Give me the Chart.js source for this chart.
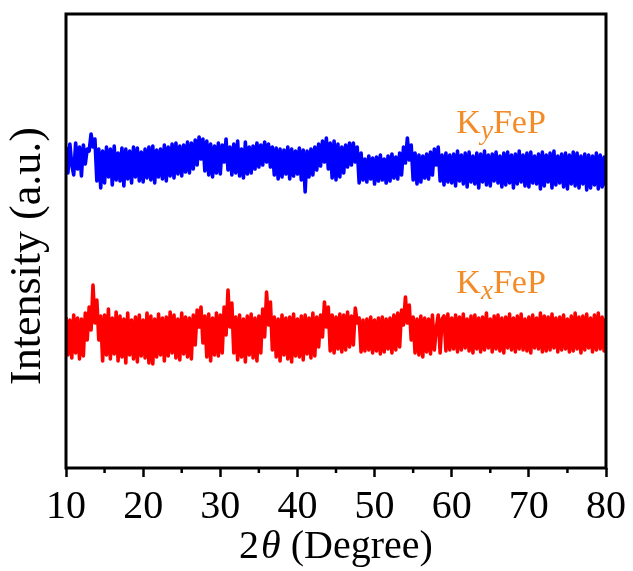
<!DOCTYPE html>
<html>
<head>
<meta charset="utf-8">
<title>XRD KxFeP / KyFeP</title>
<script src="https://cdn.jsdelivr.net/npm/chart.js@4.4.1/dist/chart.umd.min.js"></script>
<style>
  body { margin: 0; background: #fff; }
  canvas { display: block; }
</style>
</head>
<body>
<canvas id="xrdChart" width="633" height="571"></canvas>
<script>
// === DATA ===
// 2theta scan positions (degree)
const twoTheta = [
  10,10.25,10.5,10.75, 11,11.25,11.5,11.75, 12,12.25,12.5,12.75, 13,13.25,13.5,13.75,
  14,14.25,14.5,14.75, 15,15.25,15.5,15.75, 16,16.25,16.5,16.75, 17,17.25,17.5,17.75,
  18,18.25,18.5,18.75, 19,19.25,19.5,19.75, 20,20.25,20.5,20.75, 21,21.25,21.5,21.75,
  22,22.25,22.5,22.75, 23,23.25,23.5,23.75, 24,24.25,24.5,24.75, 25,25.25,25.5,25.75,
  26,26.25,26.5,26.75, 27,27.25,27.5,27.75, 28,28.25,28.5,28.75, 29,29.25,29.5,29.75,
  30,30.25,30.5,30.75, 31,31.25,31.5,31.75, 32,32.25,32.5,32.75, 33,33.25,33.5,33.75,
  34,34.25,34.5,34.75, 35,35.25,35.5,35.75, 36,36.25,36.5,36.75, 37,37.25,37.5,37.75,
  38,38.25,38.5,38.75, 39,39.25,39.5,39.75, 40,40.25,40.5,40.75, 41,41.25,41.5,41.75,
  42,42.25,42.5,42.75, 43,43.25,43.5,43.75, 44,44.25,44.5,44.75, 45,45.25,45.5,45.75,
  46,46.25,46.5,46.75, 47,47.25,47.5,47.75, 48,48.25,48.5,48.75, 49,49.25,49.5,49.75,
  50,50.25,50.5,50.75, 51,51.25,51.5,51.75, 52,52.25,52.5,52.75, 53,53.25,53.5,53.75,
  54,54.25,54.5,54.75, 55,55.25,55.5,55.75, 56,56.25,56.5,56.75, 57,57.25,57.5,57.75,
  58,58.25,58.5,58.75, 59,59.25,59.5,59.75, 60,60.25,60.5,60.75, 61,61.25,61.5,61.75,
  62,62.25,62.5,62.75, 63,63.25,63.5,63.75, 64,64.25,64.5,64.75, 65,65.25,65.5,65.75,
  66,66.25,66.5,66.75, 67,67.25,67.5,67.75, 68,68.25,68.5,68.75, 69,69.25,69.5,69.75,
  70,70.25,70.5,70.75, 71,71.25,71.5,71.75, 72,72.25,72.5,72.75, 73,73.25,73.5,73.75,
  74,74.25,74.5,74.75, 75,75.25,75.5,75.75, 76,76.25,76.5,76.75, 77,77.25,77.5,77.75,
  78,78.25,78.5,78.75, 79,79.25,79.5,79.75, 80
];

// KyFeP (blue, offset upper trace), one row per degree
const kyFeP = [
  318,292,321,300, 290,322,296,318, 289,320,301,316, 314,331,318,326,
  284,316,277,314, 282,318,288,316, 280,319,285,312, 284,317,279,316,
  286,314,282,318, 288,317,284,313, 283,316,287,318, 285,319,282,315,
  288,316,286,320, 284,318,289,321, 287,322,291,319, 289,320,293,323,
  292,322,296,325, 300,328,306,326, 294,324,290,321, 288,319,292,322,
  291,320,303,326, 295,318,290,321, 292,324,289,316, 287,323,291,318,
  292,319,296,322, 298,320,300,323, 303,321,298,318, 290,317,286,316,
  288,315,291,318, 286,316,289,314, 291,317,285,315, 273,314,288,316,
  290,318,295,321, 299,324,303,327, 296,322,287,324, 285,321,288,318,
  292,320,298,322, 300,322,303,318, 282,312,285,306, 283,309,286,307,
  281,308,284,310, 285,306,282,309, 284,311,287,308, 286,312,290,318,
  302,327,305,320, 285,312,281,310, 283,309,287,311, 286,313,290,316,
  300,318,284,310, 280,312,283,310, 282,311,279,314, 284,310,281,312,
  278,313,283,309, 281,312,277,311, 283,314,280,310, 279,311,284,313,
  282,309,278,312, 280,313,282,310, 277,311,281,314, 283,310,279,312,
  278,313,282,309, 281,311,276,313, 279,310,283,312, 277,314,280,309,
  282,311,278,312, 276,310,281,313, 279,312,277,309, 281,311,275,310,
  277,309,280,312, 276,310,278,308, 279
];

// KxFeP (red, lower trace)
const kxFeP = [
  148,110,145,107, 150,112,147,106, 146,109,152,125, 158,135,180,142,
  165,125,149,104, 150,110,156,106, 147,111,153,104, 149,108,146,102,
  152,110,145,106, 148,103,150,109, 145,107,152,102, 149,101,146,108,
  151,110,147,104, 148,109,153,112, 150,107,146,105, 152,111,148,108,
  147,106,150,120, 155,138,158,122, 149,108,151,104, 147,110,152,109,
  150,112,158,130, 175,138,162,112, 148,105,150,108, 146,103,149,110,
  151,107,147,104, 149,112,156,128, 173,140,163,115, 148,108,146,104,
  150,110,147,106, 148,103,151,109, 146,108,149,105, 150,111,147,107,
  152,109,148,118, 150,128,163,138, 158,114,150,112, 148,116,151,113,
  150,115,153,118, 149,120,157,142, 147,113,145,114, 146,115,148,112,
  145,114,147,111, 148,113,146,116, 147,112,150,115, 152,118,155,140,
  168,142,160,125, 148,112,146,110, 149,108,147,113, 146,111,150,115,
  137,150,112,146, 149,114,151,115, 147,116,150,113, 148,115,151,117,
  146,114,149,112, 150,116,147,113, 148,115,152,117, 146,113,149,116,
  150,114,147,112, 148,117,151,115, 147,113,149,116, 151,115,146,114,
  148,112,150,117, 147,116,152,113, 149,114,148,115, 151,117,147,113,
  148,115,150,116, 146,113,149,114, 152,116,148,112, 149,115,151,117,
  147,113,150,115, 152,116,148,114, 147
];

const xTicks = [10, 20, 30, 40, 50, 60, 70, 80];
const xMinorTicks = [15, 25, 35, 45, 55, 65, 75];

// sample labels: [main, italic subscript, rest], anchored in data units
const sampleLabels = [
  { parts: ['K', 'y', 'FeP'], x: 60.6, y: 332 },
  { parts: ['K', 'x', 'FeP'], x: 60.6, y: 172 }
];

const yTitle = 'Intensity (a.u.)';
const SERIF = '"Liberation Serif", "Times New Roman", serif';

// === PLUGINS ===
const framePlugin = {
  id: 'frame',
  afterDraw(chart){
    const ctx = chart.ctx;
    const a = chart.chartArea;
    const xs = chart.scales.x;
    ctx.save();
    ctx.strokeStyle = '#000';
    ctx.lineWidth = 3;
    ctx.strokeRect(a.left, a.top, a.right - a.left, a.bottom - a.top);
    // minor ticks
    ctx.lineWidth = 2.5;
    xMinorTicks.forEach(v=>{
      const px = xs.getPixelForValue(v);
      ctx.beginPath();
      ctx.moveTo(px, a.bottom);
      ctx.lineTo(px, a.bottom + 5);
      ctx.stroke();
    });
    ctx.restore();
  }
};

function drawRuns(ctx, runs, x, y, align){
  let total = 0;
  runs.forEach(r=>{ ctx.font = r.font; r.w = ctx.measureText(r.t).width; total += r.w + (r.gap || 0); });
  let cx = align === 'center' ? x - total/2 : x;
  runs.forEach(r=>{
    ctx.font = r.font;
    ctx.fillText(r.t, cx, y + (r.dy || 0));
    cx += r.w + (r.gap || 0);
  });
}

const textPlugin = {
  id: 'texts',
  afterDraw(chart){
    const ctx = chart.ctx;
    const xs = chart.scales.x, ys = chart.scales.y;
    ctx.save();
    ctx.fillStyle = '#000';
    ctx.textBaseline = 'alphabetic';
    ctx.textAlign = 'left';

    // x title: 2θ (Degree)
    drawRuns(ctx, [
      { t: '2', font: `40px ${SERIF}`, gap: 2 },
      { t: 'θ', font: `italic 40px ${SERIF}` },
      { t: ' (Degree)', font: `40px ${SERIF}` }
    ], (chart.chartArea.left + chart.chartArea.right)/2, 558, 'center');

    // y title
    ctx.save();
    ctx.translate(28, 256);
    ctx.rotate(-Math.PI/2);
    ctx.font = `44px ${SERIF}`;
    ctx.textAlign = 'center';
    ctx.textBaseline = 'middle';
    ctx.fillText(yTitle, 0, 0);
    ctx.restore();

    // sample labels
    ctx.fillStyle = '#F28C28';
    sampleLabels.forEach(l=>{
      drawRuns(ctx, [
        { t: l.parts[0], font: `34px ${SERIF}` },
        { t: l.parts[1], font: `italic 27px ${SERIF}`, dy: 6 },
        { t: l.parts[2], font: `34px ${SERIF}` }
      ], xs.getPixelForValue(l.x), ys.getPixelForValue(l.y), 'left');
    });
    ctx.restore();
  }
};

// === CHART ===
const toPoints = arr => arr.map((v,i)=>({x: twoTheta[i], y: v}));

const ctx = document.getElementById('xrdChart').getContext('2d');
new Chart(ctx, {
  type: 'line',
  data: {
    datasets: [
      { label: 'KyFeP', data: toPoints(kyFeP), borderColor: '#0000FF', borderWidth: 3.6, pointRadius: 0, tension: 0, borderJoinStyle: 'round' },
      { label: 'KxFeP', data: toPoints(kxFeP), borderColor: '#FF0000', borderWidth: 3.6, pointRadius: 0, tension: 0, borderJoinStyle: 'round' }
    ]
  },
  options: {
    responsive: false,
    animation: false,
    layout: { padding: { left: 66, right: 27, top: 14, bottom: 0 } },
    plugins: { legend: { display: false }, tooltip: { enabled: false } },
    scales: {
      x: {
        type: 'linear',
        min: 10, max: 80,
        afterBuildTicks: scale => { scale.ticks = xTicks.map(v=>({value: v})); },
        afterFit: scale => { scale.height = 103; },
        ticks: { font: { family: SERIF, size: 40 }, color: '#000', padding: 6, maxRotation: 0 },
        grid: { drawOnChartArea: false, drawTicks: true, tickLength: 9, tickWidth: 2.5, tickColor: '#000' },
        border: { display: false }
      },
      y: { display: false, min: -3, max: 451 }
    }
  },
  plugins: [framePlugin, textPlugin]
});
</script>
</body>
</html>
